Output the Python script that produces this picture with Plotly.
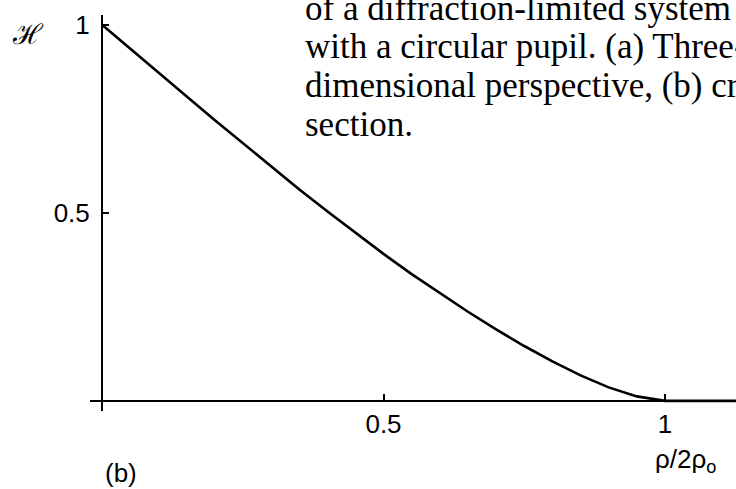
import plotly.graph_objects as go

# normalized frequency rho/2rho_o and MTF values
nu = [0, 0.05, 0.1, 0.15, 0.2, 0.25, 0.3, 0.35, 0.4, 0.45, 0.5,
      0.55, 0.6, 0.65, 0.7, 0.75, 0.8, 0.85, 0.9, 0.95, 1.0, 1.126]
mtf = [1.0, 0.936, 0.873, 0.810, 0.747, 0.685, 0.624, 0.563, 0.504, 0.447, 0.391,
       0.337, 0.286, 0.237, 0.190, 0.146, 0.105, 0.068, 0.036, 0.012, 0.0, 0.0]

x_ticks = [0.5, 1]
x_ticklabels = ["0.5", "1"]
y_ticks = [0.5, 1]
y_ticklabels = ["0.5", "1"]

caption = [
    "of a diffraction-limited system",
    "with a circular pupil. (a) Three-",
    "dimensional perspective, (b) cross",
    "section.",
]

W, H = 736, 489

fig = go.Figure()

fig.add_trace(go.Scatter(
    x=nu, y=mtf,
    mode="lines",
    line=dict(color="black", width=2.6),
    cliponaxis=False,
    showlegend=False,
    hoverinfo="skip",
))

sans = dict(family="Liberation Sans, Arial, sans-serif", size=26, color="black")
serif = dict(family="Liberation Serif, Times New Roman, serif", size=35, color="black")

fig.update_layout(
    width=W, height=H,
    paper_bgcolor="white", plot_bgcolor="white",
    margin=dict(l=0, r=0, t=0, b=0),
    showlegend=False,
    xaxis=dict(
        domain=[90 / W, 1],
        range=[-12 / 563, 634 / 563],
        anchor="free", position=89 / H,
        showgrid=False, zeroline=False,
        showline=True, linecolor="black", linewidth=2,
        ticks="inside", ticklen=6, tickwidth=1.5, tickcolor="black",
        tickvals=x_ticks, ticktext=x_ticklabels,
        tickfont=sans, ticklabelstandoff=0,
    ),
    yaxis=dict(
        domain=[79 / H, 479 / H],
        range=[-10 / 380, 390 / 380],
        anchor="free", position=102 / W,
        showgrid=False, zeroline=False,
        showline=True, linecolor="black", linewidth=2,
        ticks="inside", ticklen=6, tickwidth=1.5, tickcolor="black",
        tickvals=y_ticks, ticktext=y_ticklabels,
        tickfont=sans, ticklabelstandoff=6,
    ),
)

# caption lines, cropped at the right edge like the scan
for i, line in enumerate(caption):
    fig.add_annotation(
        text=line, xref="paper", yref="paper",
        x=303 / W, y=1 - (25 + 39 * i) / H,
        xanchor="left", yanchor="bottom",
        showarrow=False, font=serif,
    )

fig.add_annotation(text="ℋ", xref="paper", yref="paper",
                   x=28 / W, y=1 - 30 / H, xanchor="center", yanchor="middle",
                   showarrow=False,
                   font=dict(family="DejaVu Serif, serif", size=28, color="black"))

fig.add_annotation(text="ρ/2ρ<sub>o</sub>", xref="paper", yref="paper",
                   x=653 / W, y=1 - 460 / H, xanchor="left", yanchor="middle",
                   showarrow=False, font=sans)

fig.add_annotation(text="(b)", xref="paper", yref="paper",
                   x=103 / W, y=1 - 473 / H, xanchor="left", yanchor="middle",
                   showarrow=False, font=sans)

# drop the default body margin so the figure sits at the window's corner
fig.write_html("out.html", config={"displayModeBar": False},
               post_script="document.body.style.margin='0';")
